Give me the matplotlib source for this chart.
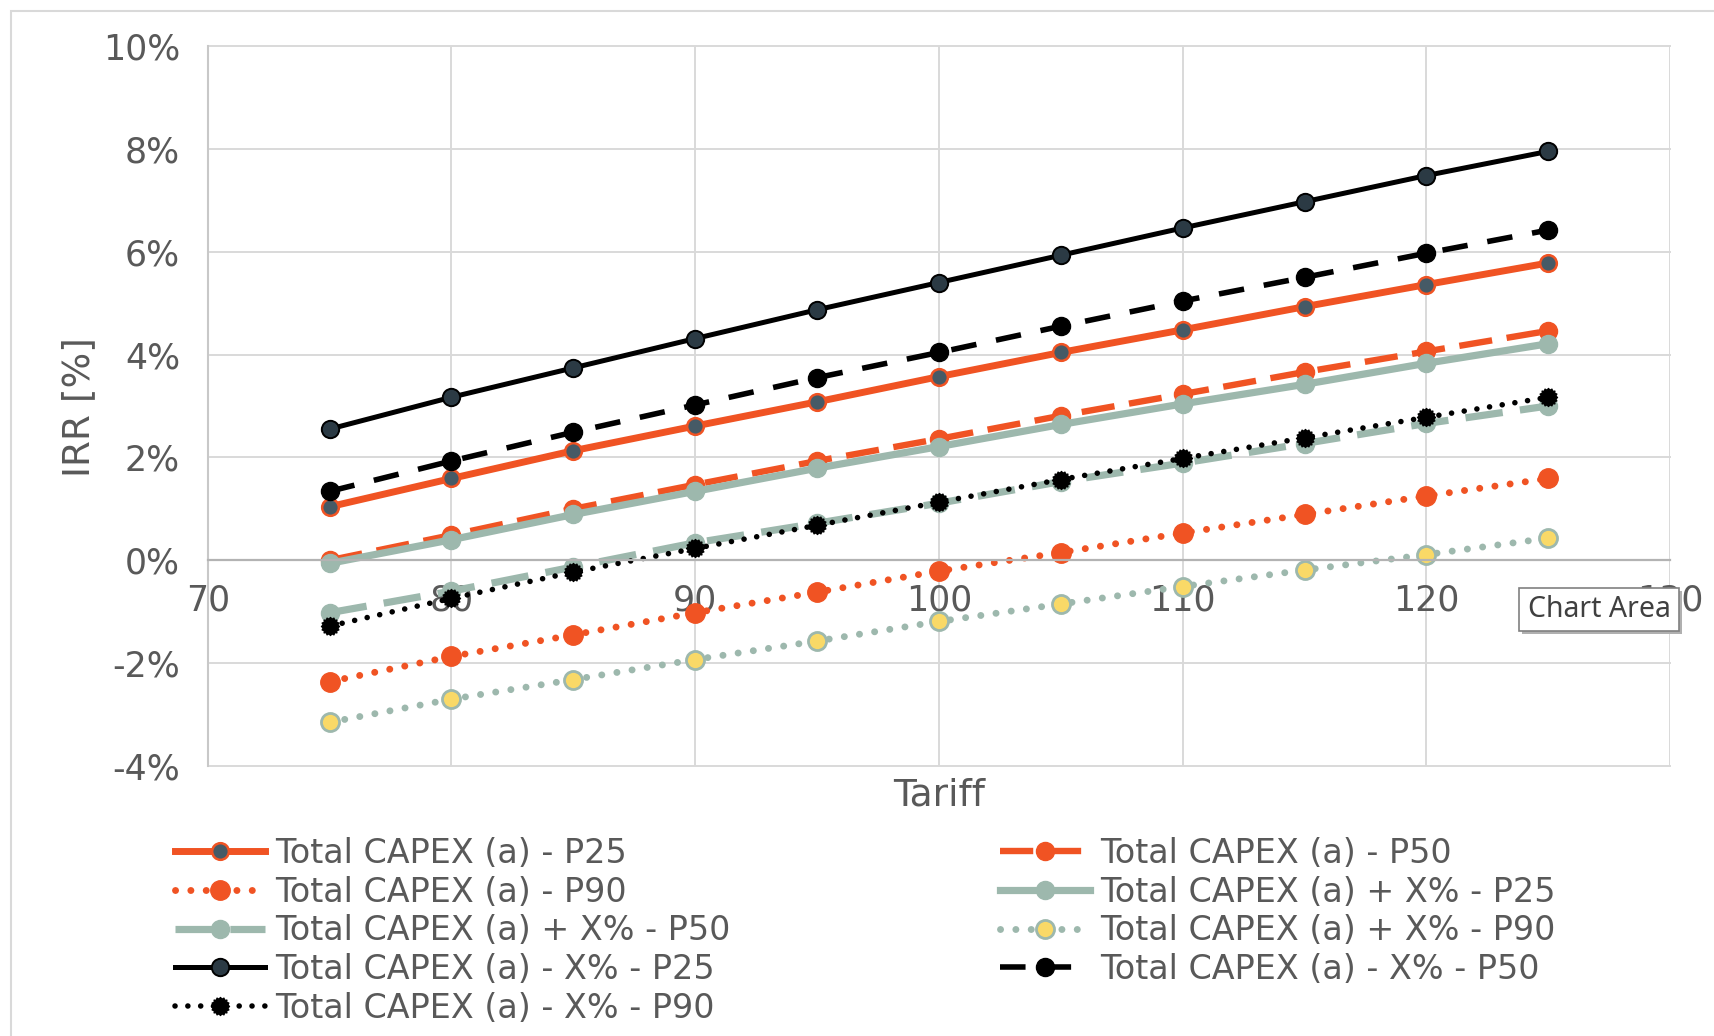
import numpy as np
import matplotlib
matplotlib.use('Agg')
import matplotlib.pyplot as plt
from matplotlib.path import Path
from matplotlib.patches import Rectangle

# ---------------- data ----------------
tariff = [75, 80, 85, 90, 95, 100, 105, 110, 115, 120, 125]

capex_p25 = [1.04, 1.59, 2.13, 2.61, 3.08, 3.57, 4.04, 4.48, 4.93, 5.36, 5.78]
capex_p50 = [0.00, 0.49, 1.00, 1.47, 1.93, 2.36, 2.81, 3.23, 3.66, 4.06, 4.46]
capex_p90 = [-2.36, -1.87, -1.45, -1.02, -0.62, -0.21, 0.15, 0.53, 0.89, 1.25, 1.59]
plus_p25 = [-0.06, 0.40, 0.89, 1.34, 1.79, 2.21, 2.64, 3.04, 3.42, 3.83, 4.21]
plus_p50 = [-1.02, -0.60, -0.13, 0.34, 0.72, 1.11, 1.53, 1.89, 2.27, 2.66, 3.00]
plus_p90 = [-3.15, -2.70, -2.32, -1.93, -1.57, -1.19, -0.85, -0.51, -0.19, 0.11, 0.43]
minus_p25 = [2.55, 3.17, 3.74, 4.31, 4.87, 5.40, 5.93, 6.46, 6.97, 7.48, 7.95]
minus_p50 = [1.34, 1.93, 2.49, 3.02, 3.55, 4.04, 4.55, 5.04, 5.50, 5.97, 6.42]
minus_p90 = [-1.28, -0.74, -0.23, 0.23, 0.68, 1.13, 1.57, 1.98, 2.38, 2.78, 3.17]

series_labels = [
    "Total CAPEX (a) - P25", "Total CAPEX (a) - P50", "Total CAPEX (a) - P90",
    "Total CAPEX (a) + X% - P25", "Total CAPEX (a) + X% - P50", "Total CAPEX (a) + X% - P90",
    "Total CAPEX (a) - X% - P25", "Total CAPEX (a) - X% - P50", "Total CAPEX (a) - X% - P90",
]
series_values = [capex_p25, capex_p50, capex_p90, plus_p25, plus_p50, plus_p90,
                 minus_p25, minus_p50, minus_p90]

x_ticks = [70, 80, 90, 100, 110, 120, 130]
y_ticks = [-4, -2, 0, 2, 4, 6, 8, 10]

# ---------------- styles ----------------
ORANGE = '#F05323'
SAGE = '#9DB8AD'
SLATE = '#465A66'
DARK = '#2B3A44'
YELLOW = '#F9D967'
TXT = '#595959'

# jagged circle marker (dotted outline look)
ang = np.linspace(0, 2 * np.pi, 33)[:-1]
rad = np.where(np.arange(32) % 2 == 0, 1.0, 0.82)
verts = np.column_stack([rad * np.cos(ang), rad * np.sin(ang)])
verts = np.vstack([verts, verts[:1]])
jag = Path(verts, closed=True)

dot = (0, (0.01, 2.2))
styles = [
    dict(color=ORANGE, lw=5.0, ls='-', marker='o', ms=12, mfc=SLATE, mec=ORANGE, mew=1.8),
    dict(color=ORANGE, lw=4.6, ls=(0, (5.2, 2.3)), marker='o', ms=13, mfc=ORANGE, mec=ORANGE, mew=1.0),
    dict(color=ORANGE, lw=5.0, ls=dot, dash_capstyle='round', marker='o', ms=14, mfc=ORANGE, mec=ORANGE, mew=1.0),
    dict(color=SAGE, lw=5.2, ls='-', marker='o', ms=13, mfc=SAGE, mec=SAGE, mew=1.0),
    dict(color=SAGE, lw=5.2, ls=(0, (5.2, 2.4)), marker='o', ms=13, mfc=SAGE, mec=SAGE, mew=1.0),
    dict(color=SAGE, lw=5.0, ls=dot, dash_capstyle='round', marker='o', ms=13, mfc=YELLOW, mec=SAGE, mew=2.0),
    dict(color='black', lw=3.6, ls='-', marker='o', ms=12.5, mfc=DARK, mec='black', mew=1.4),
    dict(color='black', lw=4.0, ls=(0, (4.6, 3.6)), marker='o', ms=13, mfc='black', mec='black', mew=1.0),
    dict(color='black', lw=4.0, ls=(0, (0.01, 2.3)), dash_capstyle='round', marker=jag, ms=13, mfc='black', mec='black', mew=1.0),
]

plt.rcParams['font.family'] = ['DejaVu Sans']

fig = plt.figure(figsize=(17.14, 10.36), dpi=100)
ax = fig.add_axes([0.1212, 0.2606, 0.8532, 0.6951])

handles = []
for lab, vals, st in zip(series_labels, series_values, styles):
    h, = ax.plot(tariff, vals, label=lab, **st)
    handles.append(h)

ax.set_xlim(70, 130)
ax.set_ylim(-4, 10)
ax.set_xticks(x_ticks)
ax.set_xticklabels([str(v) for v in x_ticks])
ax.set_yticks(y_ticks)
ax.set_yticklabels([f"{v}%" for v in y_ticks])
ax.grid(True, color='#d9d9d9', lw=1.4, zorder=0)
ax.set_axisbelow(True)
for ln in ax.get_xgridlines() + ax.get_ygridlines():
    ln.set_clip_on(False)

ax.spines['top'].set_visible(False)
ax.spines['right'].set_visible(False)
ax.spines['left'].set_color('#c8c8c8')
ax.spines['left'].set_linewidth(1.5)
ax.spines['bottom'].set_position(('data', 0))
ax.spines['bottom'].set_color('#b3b3b3')
ax.spines['bottom'].set_linewidth(1.6)
ax.tick_params(axis='x', length=0, pad=17, labelsize=25, labelcolor=TXT)
ax.tick_params(axis='y', length=0, pad=20, labelsize=25, labelcolor=TXT)

fig.text(0.548, 0.2326, 'Tariff', ha='center', va='center', fontsize=27, color=TXT)
fig.text(0.046, 0.607, 'IRR [%]', ha='center', va='center', rotation=90, fontsize=27, color=TXT)

# legends (Excel row-major 2-column layout)
left_idx = [0, 2, 4, 6, 8]
right_idx = [1, 3, 5, 7]
common = dict(frameon=False, fontsize=24, labelcolor=TXT, handlelength=2.7,
              handletextpad=0.3, labelspacing=0.17, borderpad=0, borderaxespad=0,
              numpoints=1, loc='upper left')
fig.legend([handles[i] for i in left_idx], [series_labels[i] for i in left_idx],
           bbox_to_anchor=(0.102, 0.192), **common)
fig.legend([handles[i] for i in right_idx], [series_labels[i] for i in right_idx],
           bbox_to_anchor=(0.5834, 0.192), **common)

# outer chart-area border
fig.add_artist(Rectangle((11 / 1714, -0.05), 1.2, 1 - 11 / 1036 + 0.05,
                         transform=fig.transFigure, fill=False, ec='#d9d9d9', lw=1.5, zorder=5))

# "Chart Area" tooltip
bx, by, bw, bh = 1519 / 1714, 1 - 631 / 1036, 160 / 1714, 43 / 1036
fig.add_artist(Rectangle((bx + 3 / 1714, by - 3 / 1036), bw, bh, transform=fig.transFigure,
                         fc='#b0b0b0', ec='none', zorder=9))
fig.add_artist(Rectangle((bx, by), bw, bh, transform=fig.transFigure,
                         fc='white', ec='#808080', lw=1.2, zorder=10))
fig.text(bx + bw / 2, by + bh / 2, 'Chart Area', ha='center', va='center',
         fontsize=20.5, color='#404040', family=['Noto Sans', 'DejaVu Sans'], zorder=11)

fig.savefig('out.png', dpi=100)
